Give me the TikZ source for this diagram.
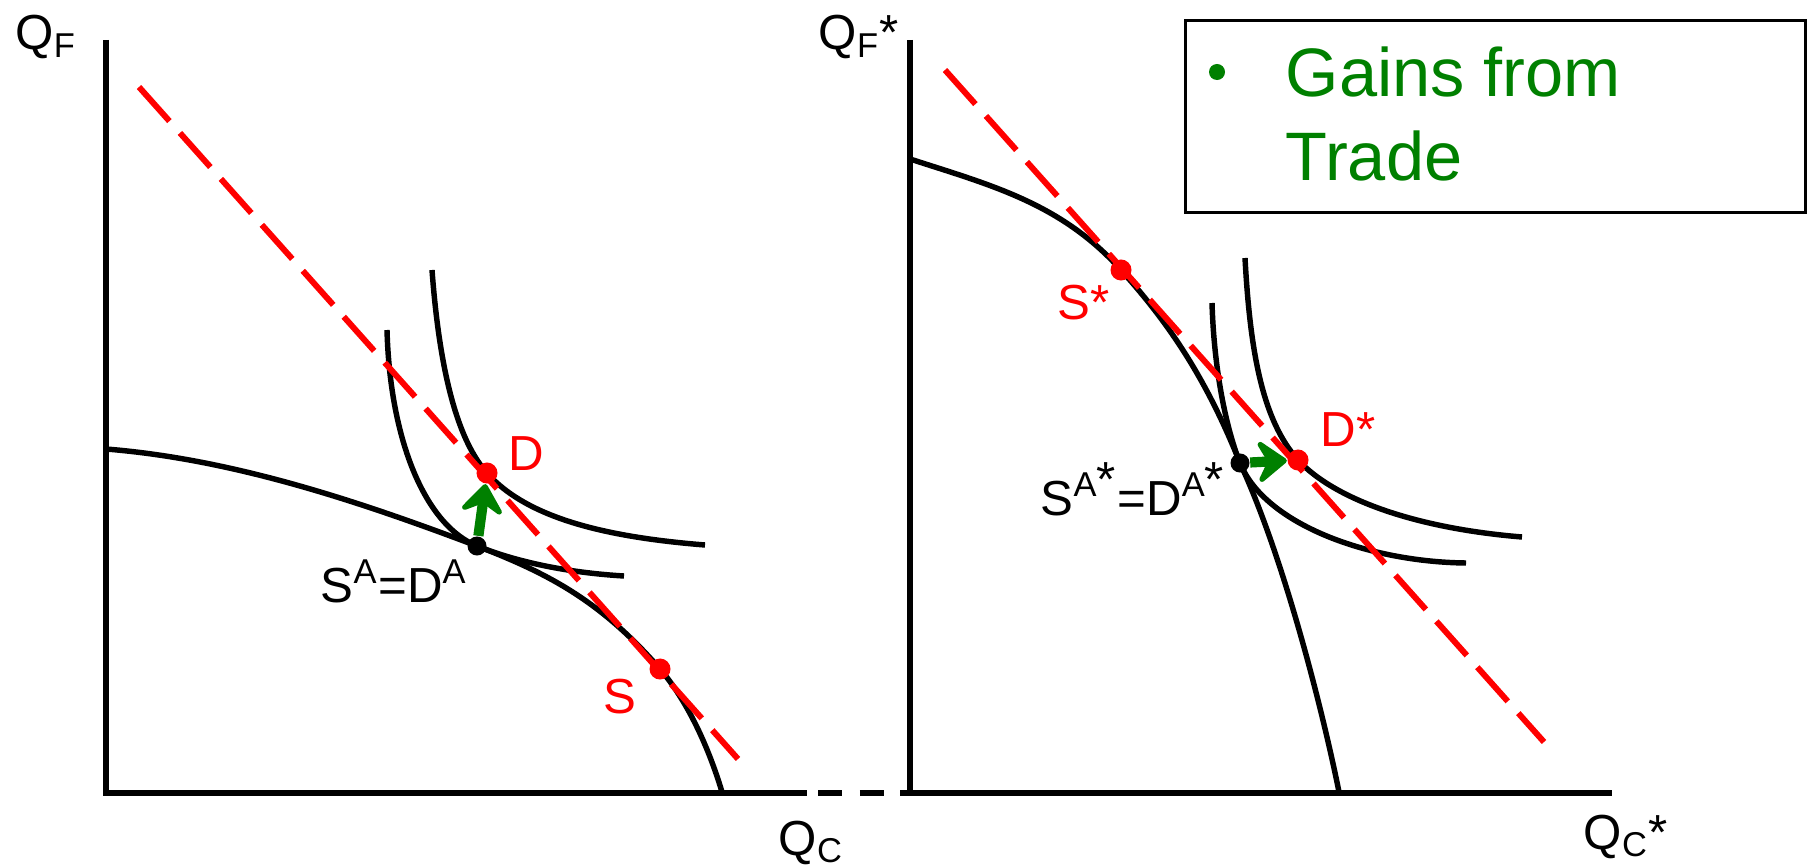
\documentclass[tikz,border=0pt]{standalone}
\usepackage{fontspec}
\setmainfont{Liberation Sans}
\usetikzlibrary{arrows.meta, positioning}
\definecolor{gaingreen}{RGB}{0,128,0}
\newcommand{\fullast}{{\fontsize{14}{14}\selectfont *}}
\tikzset{
  axis/.style     = {line width=1.9pt},
  curve/.style    = {line width=1.55pt},
  budget/.style   = {red, line width=1.7pt, dash pattern=on 13pt off 4.5pt},
  reddot/.style   = {circle, fill=red, inner sep=0pt, minimum size=0.21cm},
  blackdot/.style = {circle, fill=black, inner sep=0pt, minimum size=0.19cm},
  gain/.style     = {-{Stealth[length=10pt, width=15pt, inset=4pt, round]},
                     gaingreen, line width=2.9pt},
  lbl/.style      = {inner sep=0pt, anchor=base west, font=\fontsize{14}{17}\selectfont},
  legtext/.style  = {lbl, gaingreen, font=\fontsize{19.5}{24}\selectfont},
}
\begin{document}
\begin{tikzpicture}[x=0.01cm, y=-0.01cm]
  \useasboundingbox (0,0) rectangle (1815,867);

  % ---- axes ----
  \coordinate (O1) at (106,793);
  \coordinate (O2) at (910,793);
  \draw[axis] (106,40) -- (O1) -- (807,793);
  \draw[axis, dash pattern=on 6.8pt off 5.1pt] (818,793) -- (900,793);
  \draw[axis] (910,40) -- (O2);
  \draw[axis] (900,793) -- (1612,793);

  % ---- points ----
  \coordinate (SA)  at (477,546);
  \coordinate (D)   at (487,473);
  \coordinate (S)   at (660,669);
  \coordinate (SAs) at (1240,463);
  \coordinate (Ds)  at (1298,460);
  \coordinate (Ss)  at (1121,270);

  % ---- home country ----
  \draw[curve] (106,449) .. controls (230,459) and (353,499) .. (SA)
               .. controls (547,573) and (600,600) .. (S)
               .. controls (685,698) and (707,742) .. (722,792);
  \draw[curve] (432,270) .. controls (438,350) and (452,434) .. (D)
               .. controls (527,518) and (605,537) .. (705,545);
  \draw[curve] (387,330) .. controls (390,440) and (425,525) .. (SA)
               .. controls (522,564) and (574,573) .. (624,576);
  \draw[budget] (139,87) -- (738,759);

  % ---- foreign country ----
  \draw[curve] (910,159) .. controls (990,185) and (1061,203) .. (Ss)
               .. controls (1166,320) and (1205,375) .. (SAs)
               .. controls (1285,560) and (1324,717) .. (1339,792);
  \draw[curve] (1245,258) .. controls (1250,350) and (1262,420) .. (Ds)
               .. controls (1333,498) and (1412,528) .. (1522,537);
  \draw[curve] (1212,303) .. controls (1214,370) and (1226,428) .. (SAs)
               .. controls (1265,525) and (1370,562) .. (1466,563);
  \draw[budget] (945,70) -- (1544,742);

  % ---- dots ----
  \node[blackdot] (sa)  at (SA)  {};
  \node[reddot]   (d)   at (D)   {};
  \node[reddot]   (s)   at (S)   {};
  \node[blackdot] (sas) at (SAs) {};
  \node[reddot]   (ds)  at (Ds)  {};
  \node[reddot]   (ss)  at (Ss)  {};

  \draw[gain] (sa) -- (d);
  \draw[gain] (sas) -- (ds);

  % ---- labels ----
  \node[lbl] (qf)  at (15,50)    {Q\textsubscript{F}};
  \node[lbl] (qc)  at (778,855)  {Q\textsubscript{C}};
  \node[lbl] (qfs) at (818,50)   {Q\textsubscript{F}*};
  \node[lbl] (qcs) at (1583,849) {Q\textsubscript{C}*};

  \node[lbl, red] (dlbl)  at (508,470)  {D};
  \node[lbl, red] (slbl)  at (603,713)  {S};
  \node[lbl]      (albl)  at (320,602)  {S\textsuperscript{A}=D\textsuperscript{A}};
  \node[lbl, red] (sslbl) at (1057,320) {S*};
  \node[lbl, red] (dslbl) at (1320,446) {D*};
  \node[lbl]      (aslbl) at (1040,515)
        {S\textsuperscript{A\fullast}=D\textsuperscript{A\fullast}};

  % ---- legend ----
  \node[draw, line width=0.8pt, minimum width=6.2cm, minimum height=1.92cm,
        anchor=north west, inner sep=0pt] (legend) at (1184,19) {};
  \node[circle, fill=gaingreen, inner sep=0pt, minimum size=0.16cm] (bullet) at (1217,72) {};
  \node[legtext] (gains) at (1285,97) {Gains from};
  \node[legtext] (trade) at ([yshift=-0.83cm]gains.base west) {Trade};
\end{tikzpicture}
\end{document}
